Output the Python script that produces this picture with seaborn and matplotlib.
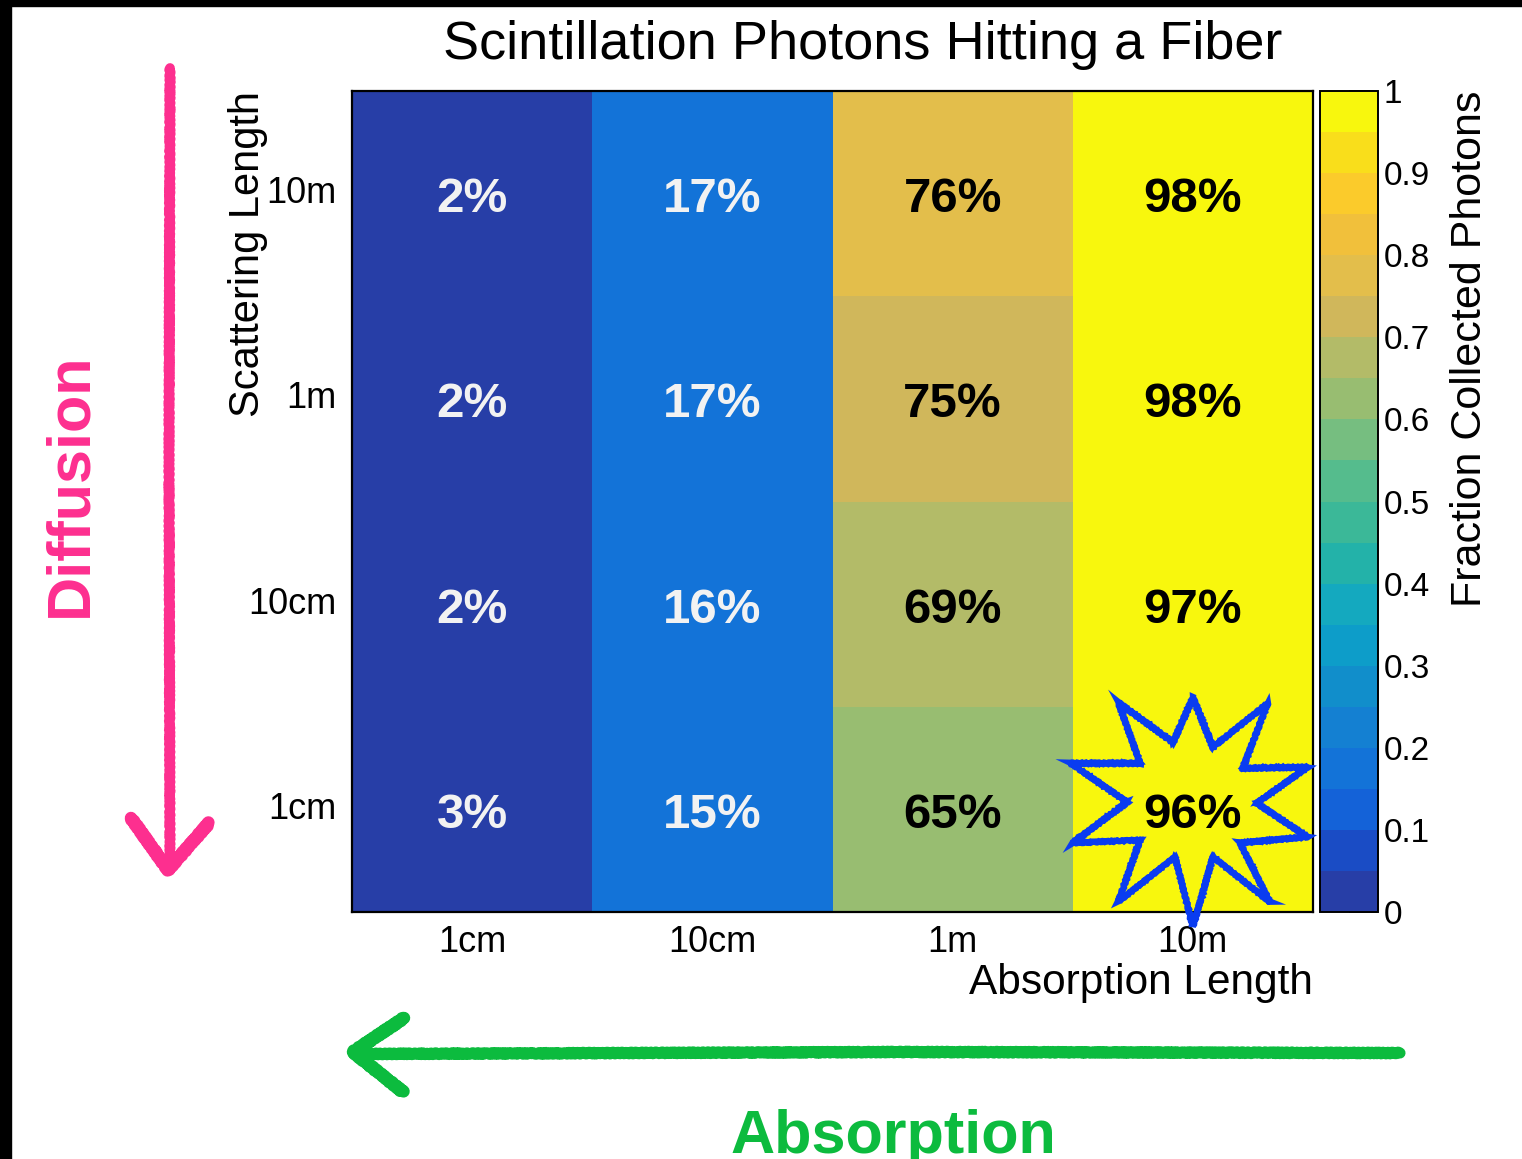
import numpy as np
import pandas as pd
import seaborn as sns
import matplotlib
matplotlib.use("Agg")
import matplotlib.pyplot as plt
from matplotlib.colors import ListedColormap
from matplotlib.lines import Line2D
from matplotlib.patches import Polygon, Rectangle
from matplotlib.transforms import ScaledTranslation

# ---- data -------------------------------------------------------------
absorption_lengths = ["1cm", "10cm", "1m", "10m"]
scattering_lengths = ["10m", "1m", "10cm", "1cm"]          # top row first

collected_scatter_10m = [0.02, 0.17, 0.76, 0.98]
collected_scatter_1m = [0.02, 0.17, 0.749, 0.98]
collected_scatter_10cm = [0.02, 0.16, 0.69, 0.97]
collected_scatter_1cm = [0.03, 0.15, 0.648, 0.96]

cbar_ticks = [0.0, 0.1, 0.2, 0.3, 0.4, 0.5, 0.6, 0.7, 0.8, 0.9, 1.0]
cbar_tick_labels = ["0", "0.1", "0.2", "0.3", "0.4", "0.5", "0.6", "0.7", "0.8", "0.9", "1"]

# 20-step "bird" palette, low to high
bird_colors = [
    "#273ea7", "#1a4cc5", "#1462d8", "#1373d8", "#1480d2",
    "#118ecb", "#0d9dc9", "#14a9bf", "#23b2a9", "#3bb898",
    "#55bc8d", "#76be80", "#98bd71", "#b3bb68", "#d0b75b",
    "#e3be4b", "#f1c03b", "#fbcb2b", "#f9de1b", "#f8f70d",
]

# ---- style ------------------------------------------------------------
sns.set_style("white")
plt.rcParams["font.family"] = ["Liberation Sans", "DejaVu Sans"]
plt.rcParams["text.color"] = "black"
plt.rcParams["axes.labelcolor"] = "black"
plt.rcParams["xtick.color"] = "black"
plt.rcParams["ytick.color"] = "black"

W, H = 1522, 1159
fig = plt.figure(figsize=(W / 100, H / 100), dpi=100)
fig.patch.set_facecolor("white")


def fx(px):
    return px / W


def fy(py):
    return 1 - py / H


ax = fig.add_axes([fx(352), fy(912), fx(1313) - fx(352), fy(91) - fy(912)])
cax = fig.add_axes([fx(1320), fy(912), fx(1378) - fx(1320), fy(91) - fy(912)])

table = pd.DataFrame(
    [collected_scatter_10m, collected_scatter_1m, collected_scatter_10cm, collected_scatter_1cm],
    index=scattering_lengths,
    columns=absorption_lengths,
)

cmap = ListedColormap(bird_colors)
sns.heatmap(
    table, ax=ax, cbar_ax=cax, cmap=cmap, vmin=0, vmax=1,
    annot=True, fmt=".0%",
    annot_kws=dict(fontsize=35.5, fontweight="bold"),
    linewidths=0,
)

# white labels on the blue cells, black on the warm ones; nudged slightly down
shift = ScaledTranslation(0, -6 / 100, fig.dpi_scale_trans)
for txt, val in zip(ax.texts, table.values.ravel()):
    txt.set_color("#f2f2f2" if val < 0.5 else "black")
    txt.set_transform(ax.transData + shift)

# axes frame and ticks
for s in ax.spines.values():
    s.set_visible(True)
    s.set_linewidth(1.6)
    s.set_color("black")

ax.tick_params(axis="y", direction="in", length=22, width=1.4, pad=11,
               labelsize=26, left=True)
ax.tick_params(axis="x", direction="in", length=16, width=1.4, pad=9,
               labelsize=26, bottom=True)
plt.setp(ax.get_yticklabels(), rotation=0)
plt.setp(ax.get_xticklabels(), rotation=0)

ax.set_xlabel("Absorption Length", fontsize=30.5, loc="right")
ax.xaxis.set_label_coords(1.0, -0.062)
ax.set_ylabel("Scattering Length", fontsize=30, loc="top")
ax.yaxis.set_label_coords(-0.087, 1.0)

# colour bar
cbar = ax.collections[0].colorbar
cbar.set_ticks(cbar_ticks)
cbar.set_ticklabels(cbar_tick_labels)
cax.tick_params(direction="in", length=21, width=1.4, pad=4, labelsize=24,
                right=True)
cbar.outline.set_linewidth(1.4)
cbar.outline.set_edgecolor("black")
cbar.set_label("Fraction Collected Photons", fontsize=31, loc="top")
cax.yaxis.set_label_coords(2.24, 1.0)

# title
fig.text(fx(863), fy(59), "Scintillation Photons Hitting a Fiber",
         fontsize=39, ha="center", va="baseline")

# ---- hand-drawn annotations -------------------------------------------
pink = "#fd2f8f"
green = "#0cbb3e"
blue = "#0a3cf0"


def scribble(xs, ys, color, widths, sketch=(0.9, 5, 2)):
    for lw, alpha in widths:
        ln = Line2D([fx(x) for x in xs], [fy(y) for y in ys],
                    transform=fig.transFigure, color=color, lw=lw,
                    alpha=alpha, solid_capstyle="round",
                    solid_joinstyle="round", zorder=6)
        ln.set_sketch_params(*sketch)
        fig.add_artist(ln)


# "Diffusion" arrow pointing down
scribble([170, 169, 170], [68, 460, 866], pink, [(7, 1.0), (4, 0.7)])
scribble([131, 168, 209], [818, 870, 823], pink, [(9, 1.0), (5, 0.7)])
fig.text(fx(71), fy(485), "Diffusion", color=pink, fontsize=44,
         fontweight="bold", rotation=90, ha="center", va="center")

# "Absorption" arrow pointing left
scribble([1400, 900, 356], [1053, 1052, 1054], green, [(8, 1.0), (5, 0.7)])
scribble([404, 353, 403], [1018, 1052, 1092], green, [(9, 1.0), (5, 0.7)])
fig.text(fx(893), fy(1153), "Absorption", color=green, fontsize=44,
         fontweight="bold", ha="center", va="baseline")

# burst around the best cell
star_px = [
    (1193, 697), (1213, 747), (1268, 703), (1243, 768), (1308, 767),
    (1257, 803), (1308, 837), (1240, 843), (1270, 902), (1213, 857),
    (1193, 927), (1175, 857), (1118, 902), (1140, 840), (1072, 843),
    (1127, 802), (1070, 763), (1140, 763), (1118, 702), (1173, 742),
]
cx0, cy0 = 1190, 810
for scale, lw in [(1.0, 4.5), (0.955, 2.5)]:
    pts = [(fx(cx0 + (x - cx0) * scale), fy(cy0 + (y - cy0) * scale)) for x, y in star_px]
    star = Polygon(pts, closed=True, fill=False, edgecolor=blue, lw=lw,
                   joinstyle="miter", transform=fig.transFigure, zorder=7)
    star.set_sketch_params(0.6, 5, 2)
    fig.add_artist(star)

# dark frame along the top and left edges
fig.add_artist(Rectangle((0, fy(6)), 1, 1 - fy(6), transform=fig.transFigure,
                         color="black", zorder=10))
fig.add_artist(Rectangle((0, 0), fx(11), 1, transform=fig.transFigure,
                         color="black", zorder=10))

fig.savefig("out.png", dpi=100)
